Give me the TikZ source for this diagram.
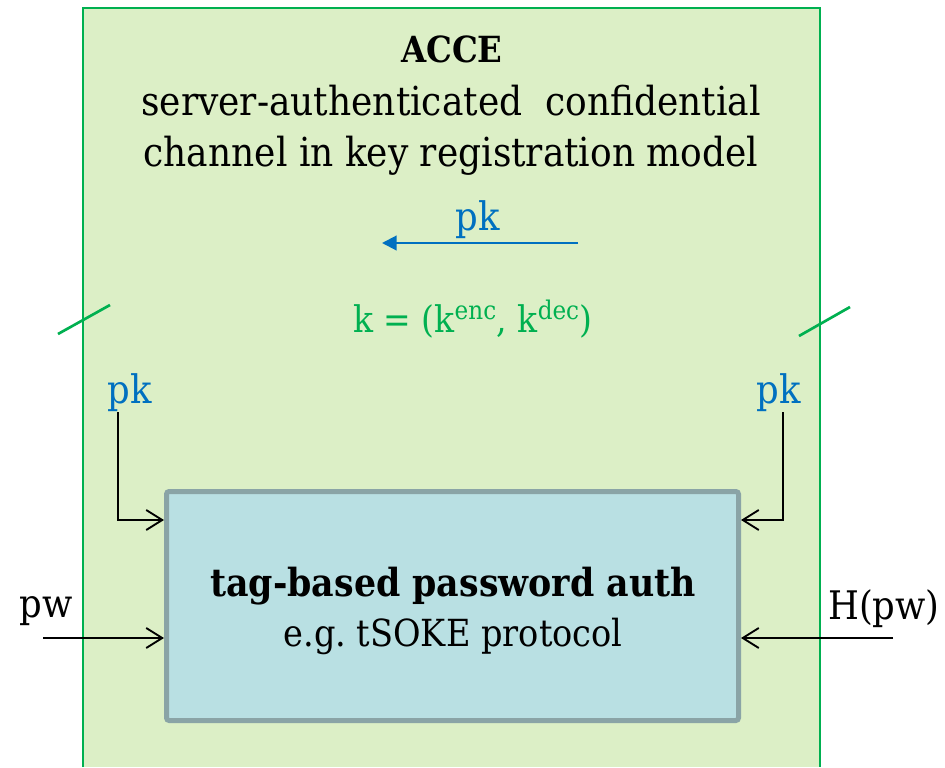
\documentclass[tikz,border=0pt]{standalone}
\usepackage{fontspec}
\setmainfont{DejaVu Serif Condensed}
\usetikzlibrary{arrows.meta}
\definecolor{accefill}{HTML}{DCEFC6}
\definecolor{acceline}{HTML}{00B050}
\definecolor{authfill}{HTML}{B9E0E3}
\definecolor{authline}{HTML}{8AA4A6}
\definecolor{pkblue}{HTML}{0070C0}
\begin{document}
\begin{tikzpicture}[x=0.75pt, y=-0.75pt,
	txt/.style={inner sep=0pt, anchor=base, font=\fontsize{29.5}{34}\selectfont},
	input/.style={black, line width=1.4pt, -{Straight Barb[length=12pt,width=15pt]}},
	authbox/.style={draw=authline, fill=authfill, line width=3.75pt, rounded corners=2pt,
		minimum width=429pt, minimum height=171.75pt, inner sep=0pt}]
	\useasboundingbox (0,0) rectangle (945,767);
	%channel
	\fill[accefill] (83,8) rectangle (820,767);
	\draw[acceline, line width=1.9pt] (83,767) -- (83,8) -- (820,8) -- (820,767);
	%cuts
	\draw[acceline, line width=2pt] (58,334) -- (110,305);
	\draw[acceline, line width=2pt] (799,336) -- (850,307);
	%title
	\node[txt, font=\fontsize{27}{32}\selectfont] (title) at (452,63) {\bfseries ACCE};
	\node[txt, font=\fontsize{30}{36}\selectfont] (sub1) at (451,115) {server-authenticated\ \ confidential};
	\node[txt, font=\fontsize{30}{36}\selectfont] (sub2) at (451,166) {channel in key registration model};
	%pk over the channel
	\node[txt, pkblue] (pktop) at (478,230) {pk};
	\coordinate (pkfrom) at (578,243);
	\coordinate (pkto) at (382,243);
	\draw[pkblue, line width=1.6pt, -{Triangle[length=11pt,width=11pt]}] (pkfrom) -- (pkto);
	\node[txt, acceline, font=\fontsize{27.5}{32}\selectfont] (key) at (473,332) {k = (k\textsuperscript{enc}, k\textsuperscript{dec})};
	%password auth
	\node[authbox] (auth) at (452.5,606) {};
	\node[txt, font=\fontsize{29}{34}\selectfont] (authname) at (453,596) {\bfseries tag-based password auth};
	\node[txt, font=\fontsize{28}{34}\selectfont] (authproto) at (453,646) {e.g.\ tSOKE protocol};
	%inputs
	\node[txt, pkblue] (pkleft) at (130,403) {pk};
	\node[txt, pkblue] (pkright) at (779,403) {pk};
	\draw[input] ([xshift=-9pt,yshift=-7pt]pkleft.base) |- ([yshift=-23.25pt]auth.north west);
	\draw[input] ([xshift=3pt,yshift=-7pt]pkright.base) |- ([yshift=-23.25pt]auth.north east);
	\node[txt] (pw) at (46,617) {pw};
	\node[txt] (hpw) at (884,619) {H(pw)};
	\coordinate (pwin) at (43,638);
	\coordinate (hpwin) at (893,638);
	\draw[input] (pwin) -- (pwin -| auth.west);
	\draw[input] (hpwin) -- (hpwin -| auth.east);
\end{tikzpicture}
\end{document}
